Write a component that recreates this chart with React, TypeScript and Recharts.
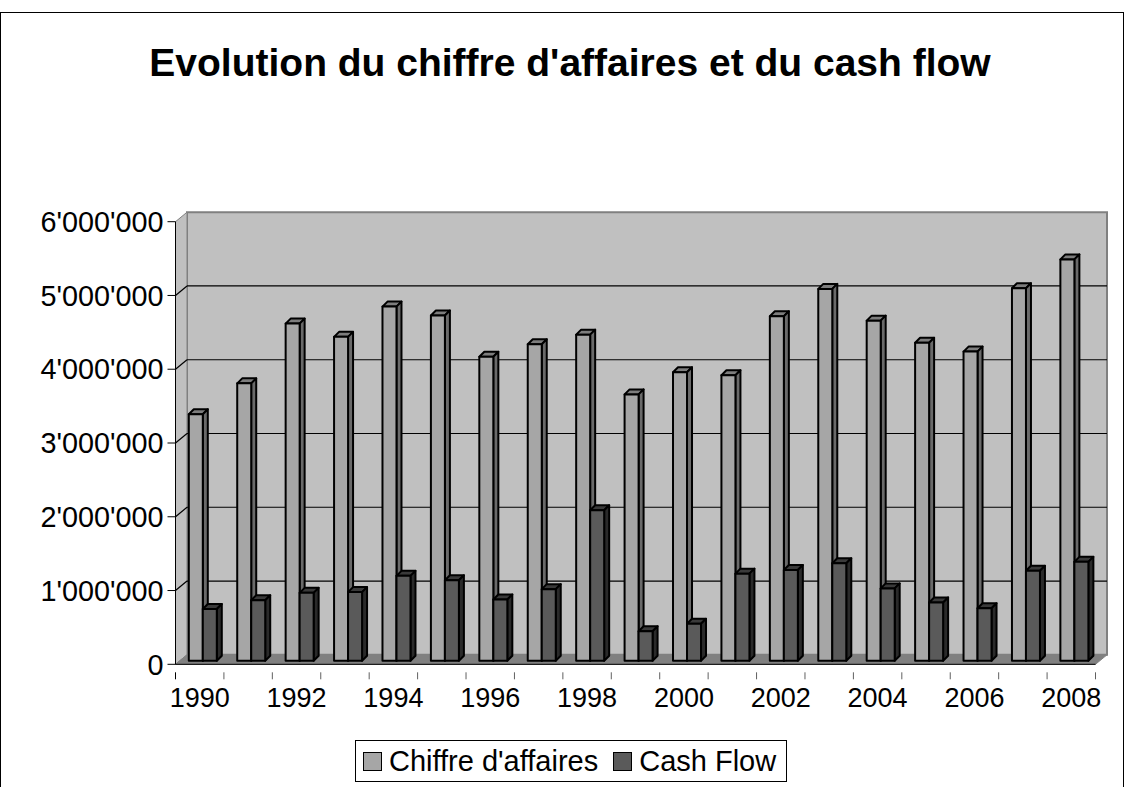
import { BarChart, Bar, XAxis, YAxis, ReferenceArea } from "recharts";

const years = [
  "1990", "1991", "1992", "1993", "1994", "1995", "1996", "1997", "1998", "1999",
  "2000", "2001", "2002", "2003", "2004", "2005", "2006", "2007", "2008",
];
const chiffreAffaires = [
  3340000, 3760000, 4570000, 4390000, 4800000, 4680000, 4120000, 4290000, 4420000, 3610000,
  3910000, 3870000, 4670000, 5040000, 4610000, 4310000, 4190000, 5050000, 5440000,
];
const cashFlow = [
  700000, 820000, 920000, 930000, 1150000, 1090000, 830000, 970000, 2040000, 400000,
  500000, 1180000, 1230000, 1320000, 980000, 790000, 710000, 1220000, 1340000,
];
const yTicks = [0, 1000000, 2000000, 3000000, 4000000, 5000000, 6000000];

const rows = years.map((year, i) => ({
  year,
  chiffre: chiffreAffaires[i],
  cash: cashFlow[i],
}));

const FONT = "'Liberation Sans', Arial, sans-serif";
const WALL_DX = 11.5;
const WALL_DY = -9.5;
const BAR_DX = 3.3;
const BAR_DY = -3.6;
const BAR_DEPTH = 5;

const formatValue = (v: number) => String(v).replace(/\B(?=(\d{3})+$)/g, "'");

// back wall, side wall, floor and gridlines behind the bars
function Walls({ x, y, width, height }: any) {
  const right = x + width;
  const bottom = y + height;
  const top = yTicks[yTicks.length - 1];
  return (
    <g>
      <polygon
        points={`${x + WALL_DX},${y + WALL_DY} ${right + WALL_DX},${y + WALL_DY} ${right + WALL_DX},${bottom + WALL_DY} ${x + WALL_DX},${bottom + WALL_DY}`}
        fill="#c0c0c0"
        stroke="#808080"
        strokeWidth={2}
      />
      <polygon
        points={`${x},${y} ${x + WALL_DX},${y + WALL_DY} ${x + WALL_DX},${bottom + WALL_DY} ${x},${bottom}`}
        fill="#c0c0c0"
        stroke="#808080"
        strokeWidth={1}
      />
      <polygon
        points={`${x},${bottom} ${x + WALL_DX},${bottom + WALL_DY} ${right + WALL_DX},${bottom + WALL_DY} ${right},${bottom}`}
        fill="#808080"
        stroke="#808080"
        strokeWidth={1}
      />
      {yTicks.slice(1, -1).map((t) => {
        const ty = bottom - (t / top) * height;
        return (
          <g key={t} stroke="#000" strokeWidth={1.2}>
            <line x1={x} y1={ty} x2={x + WALL_DX} y2={ty + WALL_DY} />
            <line x1={x + WALL_DX} y1={ty + WALL_DY} x2={right + WALL_DX} y2={ty + WALL_DY} />
          </g>
        );
      })}
    </g>
  );
}

function makeBox(front: string, top: string, side: string) {
  return function Box({ x, y, width, height }: any) {
    const l = x + BAR_DX;
    const r = l + width;
    const t = y + BAR_DY;
    const b = t + height;
    return (
      <g stroke="#000" strokeWidth={2} strokeLinejoin="round">
        <polygon
          points={`${l},${t} ${l + BAR_DEPTH},${t - BAR_DEPTH} ${r + BAR_DEPTH},${t - BAR_DEPTH} ${r},${t}`}
          fill={top}
        />
        <polygon
          points={`${r},${t} ${r + BAR_DEPTH},${t - BAR_DEPTH} ${r + BAR_DEPTH},${b - BAR_DEPTH} ${r},${b}`}
          fill={side}
        />
        <rect x={l} y={t} width={width} height={height} fill={front} />
      </g>
    );
  };
}

const ChiffreBox = makeBox("#a6a6a6", "#7d7d7d", "#6a6a6a");
const CashBox = makeBox("#5a5a5a", "#3a3a3a", "#2a2a2a");

const BAND = 920 / years.length;

function YearTick({ x, y, payload, index }: any) {
  const left = x - BAND / 2;
  const isLast = index === years.length - 1;
  return (
    <g>
      <line x1={left} y1={y} x2={left} y2={y + 7} stroke={index === 0 ? "#000" : "#606060"} />
      {isLast && <line x1={left + BAND} y1={y} x2={left + BAND} y2={y + 7} stroke="#606060" />}
      {index % 2 === 0 && (
        <text x={x} y={y + 35} textAnchor="middle" fontFamily={FONT} fontSize={27} fill="#000">
          {payload.value}
        </text>
      )}
    </g>
  );
}

function LegendKey({ color, label }: { color: string; label: string }) {
  return (
    <span style={{ display: "inline-flex", alignItems: "center" }}>
      <span
        style={{
          display: "inline-block",
          width: 17,
          height: 17,
          background: color,
          border: "1.5px solid #000",
          marginRight: 7,
        }}
      />
      {label}
    </span>
  );
}

export default function App() {
  return (
    <div style={{ position: "absolute", left: 0, top: 0, width: 1124, height: 787, overflow: "hidden", background: "#fff" }}>
      <div
        style={{
          position: "absolute",
          left: 0,
          top: 12,
          width: 1122,
          height: 790,
          border: "1px solid #000",
        }}
      />
      <div
        style={{
          position: "absolute",
          left: 0,
          top: 38,
          width: 1140,
          textAlign: "center",
          fontFamily: FONT,
          fontWeight: 700,
          fontSize: 39,
          lineHeight: "50px",
          color: "#000",
        }}
      >
        Evolution du chiffre d'affaires et du cash flow
      </div>
      <BarChart
        width={1124}
        height={787}
        data={rows}
        barSize={14}
        barGap={0}
        margin={{ top: 221.7, right: 28.5, bottom: 62.7, left: 0 }}
        style={{ position: "absolute", left: 0, top: 0 }}
      >
        <ReferenceArea y1={0} y2={6000000} shape={Walls} ifOverflow="visible" />
        <XAxis
          dataKey="year"
          interval={0}
          height={60}
          axisLine={{ stroke: "#000" }}
          tickLine={false}
          tick={YearTick}
        />
        <YAxis
          width={175.5}
          domain={[0, 6000000]}
          ticks={yTicks}
          tickFormatter={formatValue}
          axisLine={{ stroke: "#000" }}
          tickLine={{ stroke: "#000" }}
          tickSize={8}
          tickMargin={4}
          tick={{ fontFamily: FONT, fontSize: 28.8, fill: "#000" }}
        />
        <Bar dataKey="chiffre" shape={ChiffreBox} isAnimationActive={false} />
        <Bar dataKey="cash" shape={CashBox} isAnimationActive={false} />
      </BarChart>
      <div
        style={{
          position: "absolute",
          left: 355,
          top: 740,
          width: 423,
          height: 40,
          border: "1px solid #000",
          display: "flex",
          alignItems: "center",
          paddingLeft: 7,
          fontFamily: FONT,
          fontSize: 29,
          color: "#000",
          whiteSpace: "nowrap",
          gap: 15,
        }}
      >
        <LegendKey color="#a6a6a6" label="Chiffre d'affaires" />
        <LegendKey color="#5a5a5a" label="Cash Flow" />
      </div>
    </div>
  );
}
